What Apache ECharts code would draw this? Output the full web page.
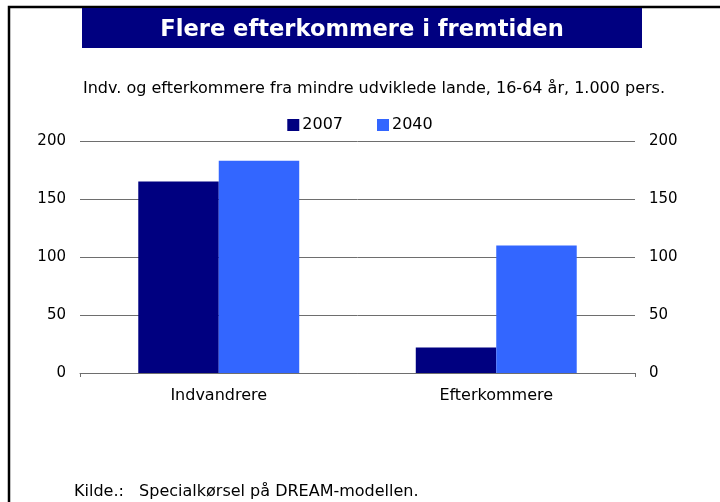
<!DOCTYPE html>
<html>
<head>
<meta charset="utf-8">
<script src="https://cdn.jsdelivr.net/npm/echarts@6/dist/echarts.min.js"></script>
<style>
  html, body { margin: 0; padding: 0; background: #fff; }
  #chart { width: 720px; height: 502px; }
</style>
</head>
<body>
<div id="chart"></div>
<script>
// data
const categories = ['Indvandrere', 'Efterkommere']
const years = ['2007', '2040']
const values2007 = [165, 22]
const values2040 = [183, 110]
const yTicks = { min: 0, max: 200, interval: 50 }

const font = 'DejaVu Sans, Verdana, sans-serif'
const colors = ['#000080', '#3366ff']

const myChart = echarts.init(document.getElementById('chart'))

const yAxisBase = {
  type: 'value',
  min: yTicks.min,
  max: yTicks.max,
  interval: yTicks.interval,
  axisLine: { show: false },
  axisTick: { show: false },
  axisLabel: { fontFamily: font, fontSize: 15, color: '#000', margin: 14 },
  splitLine: { lineStyle: { color: '#6e6e6e', width: 1 } }
}

const option = {
  animation: false,
  backgroundColor: '#fff',
  graphic: [
    {
      // frame: top and left edge only
      type: 'polyline',
      shape: { points: [[9, 510], [9, 7], [730, 7]] },
      style: { fill: null, stroke: '#000', lineWidth: 2.5 }
    },
    {
      type: 'rect',
      shape: { x: 82, y: 8, width: 560, height: 40 },
      style: { fill: '#000080' }
    },
    {
      type: 'text',
      x: 362, y: 30,
      style: {
        text: 'Flere efterkommere i fremtiden', fill: '#fff',
        font: 'bold 22.6px ' + font, align: 'center', verticalAlign: 'middle'
      }
    },
    {
      type: 'text',
      left: 74, top: 484,
      style: { text: 'Kilde.:   Specialkørsel på DREAM-modellen.', fill: '#000', font: '16px ' + font }
    }
  ],
  title: {
    text: 'Indv. og efterkommere fra mindre udviklede lande, 16-64 år, 1.000 pers.',
    left: 78,
    top: 76,
    textStyle: { fontFamily: font, fontSize: 16, fontWeight: 'normal', color: '#000' }
  },
  legend: {
    data: years,
    top: 112,
    left: 'center',
    itemWidth: 12,
    itemHeight: 12,
    itemGap: 34,
    icon: 'rect',
    textStyle: { fontFamily: font, fontSize: 16, color: '#000', padding: [0, 0, 0, -2] }
  },
  grid: { left: 80, right: 85, top: 141, bottom: 129, containLabel: false },
  xAxis: {
    type: 'category',
    data: categories,
    axisLine: { lineStyle: { color: '#6e6e6e', width: 1 } },
    axisTick: {
      show: true,
      length: 4,
      interval: function (i) { return i === 0 },
      lineStyle: { color: '#6e6e6e' }
    },
    axisLabel: { fontFamily: font, fontSize: 16, color: '#000', margin: 15 }
  },
  yAxis: [
    Object.assign({}, yAxisBase, { position: 'left' }),
    Object.assign({}, yAxisBase, { position: 'right', splitLine: { show: false } })
  ],
  series: [
    {
      name: years[0],
      type: 'bar',
      data: values2007,
      itemStyle: { color: colors[0] },
      barGap: '0%',
      barCategoryGap: '42%'
    },
    {
      name: years[1],
      type: 'bar',
      data: values2040,
      itemStyle: { color: colors[1] }
    }
  ]
}

myChart.setOption(option)
</script>
</body>
</html>
